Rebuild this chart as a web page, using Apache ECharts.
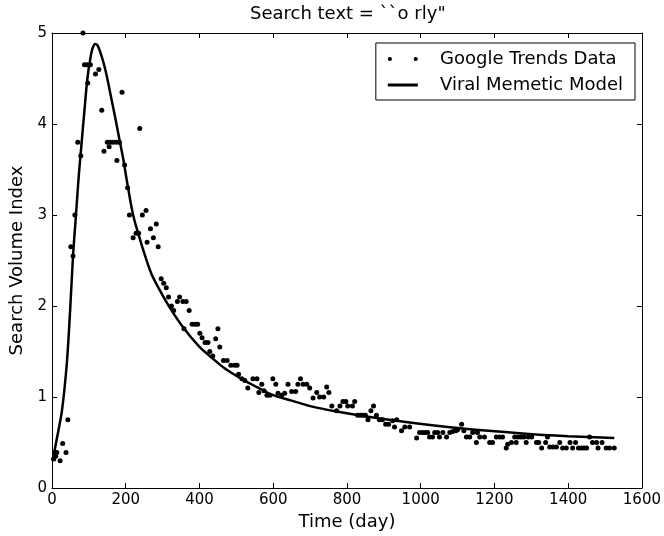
<!DOCTYPE html>
<html>
<head>
<meta charset="utf-8">
<script src="https://cdn.jsdelivr.net/npm/echarts@6/dist/echarts.min.js"></script>
<style>
  html, body { margin: 0; padding: 0; background: #fff; }
  #main { width: 664px; height: 536px; }
</style>
</head>
<body>
<div id="main"></div>
<script>
// Google Trends points (day, index)
var trendDays = [5, 8, 10, 13, 22, 29, 38, 43, 51, 57, 62, 70, 78, 84, 88, 95, 97, 104, 118, 127,
  135, 141, 150, 155, 158, 166, 175, 176, 183, 190, 197, 205, 210, 220, 228, 235, 238, 245, 255, 258,
  267, 275, 283, 288, 296, 303, 310, 316, 324, 330, 340, 346, 355, 358, 364, 372, 380, 388, 395, 401,
  407, 415, 423, 428, 436, 444, 450, 455, 465, 475, 485, 495, 502, 506, 515, 523, 531, 545, 556, 561,
  569, 575, 583, 591, 599, 607, 613, 623, 631, 640, 650, 661, 667, 674, 681, 691, 699, 708, 718, 726,
  737, 745, 751, 759, 772, 781, 789, 797, 802, 815, 821, 829, 836, 843, 850, 857, 865, 872, 880, 888,
  896, 905, 913, 924, 929, 935, 948, 957, 970, 989, 997, 1005, 1012, 1019, 1024, 1032, 1038, 1046, 1051, 1060,
  1070, 1079, 1087, 1095, 1100, 1111, 1117, 1124, 1133, 1141, 1151, 1154, 1160, 1173, 1187, 1195, 1205, 1214, 1222, 1232,
  1236, 1246, 1255, 1259, 1264, 1272, 1280, 1286, 1292, 1301, 1314, 1320, 1328, 1339, 1344, 1350, 1359, 1368, 1377, 1385,
  1395, 1405, 1412, 1420, 1428, 1436, 1443, 1450, 1458, 1466, 1477, 1481, 1492, 1503, 1512, 1525];
var trendValues = [0.32, 0.39, 0.35, 0.39, 0.3, 0.49, 0.39, 0.75, 2.65, 2.55, 3.0, 3.8, 3.65, 5.0, 4.65, 4.65, 4.45, 4.65, 4.55, 4.6,
  4.15, 3.7, 3.8, 3.75, 3.8, 3.8, 3.8, 3.6, 3.8, 4.35, 3.55, 3.3, 3.0, 2.75, 2.8, 2.8, 3.95, 3.0, 3.05, 2.7,
  2.85, 2.75, 2.9, 2.65, 2.3, 2.25, 2.2, 2.1, 2.0, 1.95, 2.05, 2.1, 2.05, 1.75, 2.05, 1.95, 1.8, 1.8, 1.8, 1.7,
  1.65, 1.6, 1.6, 1.5, 1.45, 1.64, 1.75, 1.55, 1.4, 1.4, 1.35, 1.35, 1.35, 1.25, 1.2, 1.18, 1.1, 1.2, 1.2, 1.05,
  1.14, 1.07, 1.02, 1.02, 1.2, 1.14, 1.04, 1.02, 1.04, 1.14, 1.06, 1.06, 1.14, 1.2, 1.14, 1.14, 1.1, 0.99, 1.05, 1.0,
  1.0, 1.11, 1.05, 0.9, 0.85, 0.9, 0.95, 0.95, 0.9, 0.9, 0.95, 0.8, 0.8, 0.8, 0.8, 0.75, 0.85, 0.9, 0.8, 0.75,
  0.75, 0.7, 0.7, 0.74, 0.67, 0.75, 0.63, 0.67, 0.67, 0.55, 0.61, 0.61, 0.61, 0.61, 0.56, 0.56, 0.61, 0.61, 0.56, 0.61,
  0.56, 0.61, 0.62, 0.63, 0.64, 0.7, 0.63, 0.56, 0.56, 0.61, 0.5, 0.61, 0.56, 0.56, 0.5, 0.5, 0.56, 0.56, 0.56, 0.44,
  0.48, 0.5, 0.56, 0.5, 0.56, 0.56, 0.56, 0.5, 0.56, 0.56, 0.5, 0.5, 0.44, 0.5, 0.56, 0.45, 0.45, 0.45, 0.5, 0.44,
  0.44, 0.5, 0.44, 0.5, 0.44, 0.44, 0.44, 0.44, 0.56, 0.5, 0.5, 0.44, 0.5, 0.44, 0.44, 0.44];

// fitted model curve
var modelDays = [0, 5, 14, 27, 40, 49, 57, 65, 72, 80, 88, 96, 104, 110, 117, 124, 130, 140, 149, 160,
  171, 182, 193, 205, 220, 238, 255, 270, 293, 320, 355, 400, 428, 470, 518, 560, 600, 650, 700, 772,
  862, 970, 1100, 1276, 1400, 1525];
var modelValues = [0.3, 0.37, 0.56, 0.85, 1.36, 1.94, 2.55, 3.0, 3.4, 3.78, 4.15, 4.5, 4.72, 4.83, 4.88, 4.86, 4.8, 4.67, 4.52, 4.3,
  4.08, 3.85, 3.62, 3.33, 3.0, 2.74, 2.52, 2.35, 2.17, 1.98, 1.77, 1.55, 1.45, 1.31, 1.19, 1.1, 1.02, 0.96, 0.9, 0.84,
  0.78, 0.72, 0.66, 0.6, 0.57, 0.55];

var xTicks = [0, 200, 400, 600, 800, 1000, 1200, 1400, 1600];
var yTicks = [0, 1, 2, 3, 4, 5];

var font = "DejaVu Sans";
var chart = echarts.init(document.getElementById("main"));

var trendData = trendDays.map(function (d, i) { return [d, trendValues[i]]; });
var modelData = modelDays.map(function (d, i) { return [d, modelValues[i]]; });

function xAx(pos, labels) {
  return {
    type: "value", position: pos, min: xTicks[0], max: xTicks[xTicks.length - 1], interval: 200,
    axisLine: { show: true, onZero: false, lineStyle: { color: "#000", width: 1 } },
    axisTick: { show: true, inside: true, length: 5, lineStyle: { color: "#000" } },
    axisLabel: { show: labels, color: "#000", fontFamily: font, fontSize: 15, margin: 5,
      formatter: function (v) { return String(v); } },
    splitLine: { show: false }
  };
}
function yAx(pos, labels) {
  return {
    type: "value", position: pos, min: yTicks[0], max: yTicks[yTicks.length - 1], interval: 1,
    axisLine: { show: true, onZero: false, lineStyle: { color: "#000", width: 1 } },
    axisTick: { show: true, inside: true, length: 5, lineStyle: { color: "#000" } },
    axisLabel: { show: labels, color: "#000", fontFamily: font, fontSize: 15, margin: 5,
      formatter: function (v) { return String(v); } },
    splitLine: { show: false }
  };
}

var xMain = xAx("bottom", true);
xMain.name = "Time (day)";
xMain.nameLocation = "middle";
xMain.nameGap = 25;
xMain.nameTextStyle = { color: "#000", fontFamily: font, fontSize: 18 };
var yMain = yAx("left", true);
yMain.name = "Search Volume Index";
yMain.nameLocation = "middle";
yMain.nameGap = 24;
yMain.nameTextStyle = { color: "#000", fontFamily: font, fontSize: 18 };

chart.setOption({
  animation: false,
  backgroundColor: "#fff",
  title: {
    text: 'Search text = ``o rly"',
    left: 250, top: 5, padding: 0,
    textStyle: { color: "#000", fontFamily: font, fontSize: 18, fontWeight: "normal" }
  },
  grid: { left: 52, right: 21, top: 33, bottom: 45 },
  legend: {
    orient: "vertical",
    right: 29, top: 43,
    padding: [6, 12, 5, 12],
    itemGap: 6,
    itemWidth: 30, itemHeight: 12,
    borderColor: "#000", borderWidth: 1, borderRadius: 0,
    backgroundColor: "#fff",
    symbolKeepAspect: true,
    formatter: function (n) { return "   " + n; },
    textStyle: { color: "#000", fontFamily: font, fontSize: 18, lineHeight: 20 },
    data: [
      { name: "Google Trends Data", icon: "path://M0,2a2,2 0 1,0 4,0a2,2 0 1,0 -4,0zM25,2a2,2 0 1,0 4,0a2,2 0 1,0 -4,0z" },
      { name: "Viral Memetic Model", icon: "path://M0,0H30V3H0z" }
    ]
  },
  xAxis: [xMain, xAx("top", false)],
  yAxis: [yMain, yAx("right", false)],
  series: [
    {
      name: "Google Trends Data", type: "scatter", xAxisIndex: 0, yAxisIndex: 0,
      symbol: "circle", symbolSize: 5,
      itemStyle: { color: "#000", opacity: 1 },
      data: trendData, z: 3
    },
    {
      name: "Viral Memetic Model", type: "line", xAxisIndex: 0, yAxisIndex: 0,
      smooth: 0.3, symbol: "none", color: "#000",
      lineStyle: { color: "#000", width: 2.5 },
      data: modelData, z: 2
    }
  ]
});
</script>
</body>
</html>
